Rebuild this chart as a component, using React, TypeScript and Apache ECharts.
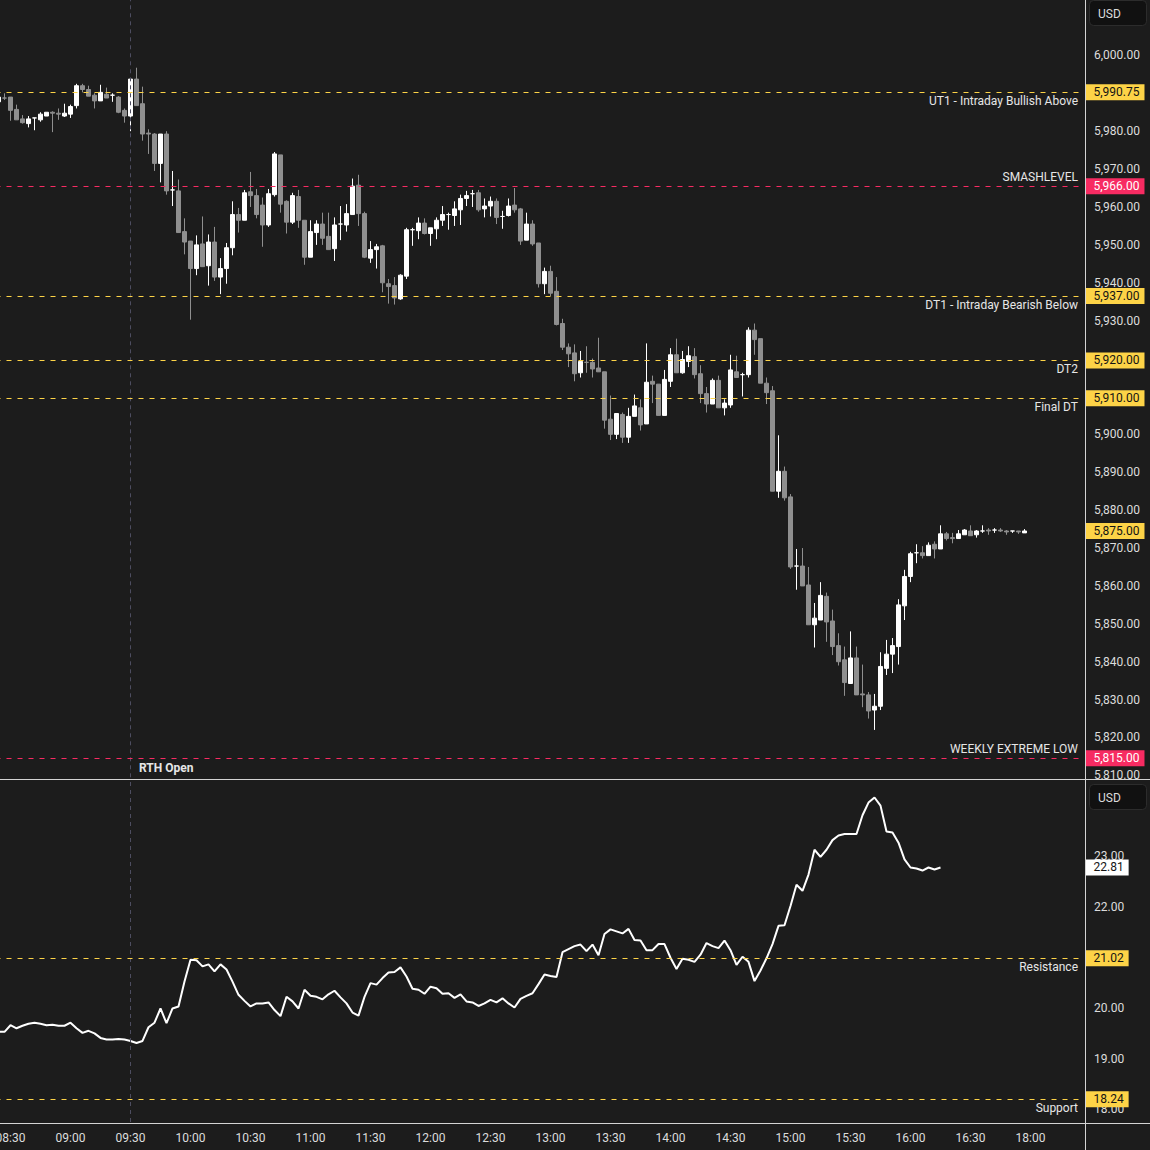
import React, { useEffect, useRef } from "react";
import * as echarts from "echarts";

// ---------- time slots (3-minute bars, 17:00-18:00 maintenance break skipped) ----------
const SESSION_STARTS: string[] = ["08:24", "18:00"];
const SESSION_ENDS: string[] = ["16:57", "18:24"];
const BAR_MINUTES = 3;
const toMin = (s: string) => Number(s.slice(0, 2)) * 60 + Number(s.slice(3, 5));
const toLabel = (m: number) =>
  String(Math.floor(m / 60)).padStart(2, "0") + ":" + String(m % 60).padStart(2, "0");
const timeSlots: string[] = [];
SESSION_STARTS.forEach((s, i) => {
  for (let m = toMin(s); m <= toMin(SESSION_ENDS[i]); m += BAR_MINUTES) timeSlots.push(toLabel(m));
});

// ---------- ES futures candles: [open, close, low, high] ----------
const esCandles: number[][] = [
  [5988.25, 5989.5, 5987.75, 5990.0],
  [5989.25, 5989.25, 5988.75, 5990.5],
  [5989.5, 5986.0, 5983.25, 5989.5],
  [5986.25, 5983.5, 5983.5, 5987.5],
  [5983.75, 5982.75, 5982.5, 5984.75],
  [5982.5, 5983.75, 5981.5, 5984.5],
  [5984.0, 5984.0, 5980.75, 5984.0],
  [5983.5, 5985.0, 5983.0, 5985.5],
  [5984.5, 5985.5, 5984.5, 5985.5],
  [5985.5, 5985.25, 5980.25, 5985.75],
  [5985.25, 5985.0, 5983.5, 5986.5],
  [5984.5, 5985.25, 5984.25, 5987.75],
  [5985.0, 5987.0, 5984.0, 5987.5],
  [5987.25, 5992.5, 5986.5, 5993.0],
  [5992.5, 5991.5, 5990.75, 5993.0],
  [5991.5, 5989.75, 5989.75, 5992.5],
  [5990.0, 5988.5, 5986.5, 5990.5],
  [5988.5, 5990.75, 5988.5, 5992.75],
  [5990.25, 5989.25, 5989.25, 5992.0],
  [5990.0, 5990.0, 5988.25, 5990.5],
  [5989.5, 5985.5, 5985.25, 5989.75],
  [5986.0, 5984.5, 5982.75, 5986.5],
  [5984.5, 5994.25, 5980.5, 5994.5],
  [5994.25, 5987.25, 5987.25, 5997.25],
  [5987.75, 5979.75, 5978.0, 5992.25],
  [5980.0, 5979.75, 5974.5, 5981.0],
  [5979.75, 5972.0, 5970.0, 5980.0],
  [5972.0, 5979.75, 5967.0, 5979.75],
  [5979.75, 5964.75, 5963.75, 5980.5],
  [5965.0, 5965.0, 5960.75, 5970.0],
  [5964.75, 5953.75, 5953.75, 5967.75],
  [5954.0, 5951.25, 5948.0, 5957.5],
  [5951.5, 5944.25, 5930.75, 5951.5],
  [5944.25, 5950.5, 5942.5, 5953.0],
  [5950.75, 5944.75, 5944.75, 5958.0],
  [5945.0, 5951.25, 5939.75, 5953.25],
  [5951.25, 5942.0, 5941.0, 5955.25],
  [5942.0, 5944.25, 5937.5, 5947.0],
  [5944.25, 5949.75, 5940.25, 5951.0],
  [5949.75, 5958.5, 5947.75, 5962.0],
  [5958.5, 5957.0, 5953.75, 5960.25],
  [5957.0, 5964.25, 5957.0, 5965.0],
  [5964.5, 5963.5, 5960.5, 5969.75],
  [5963.5, 5958.5, 5957.5, 5965.25],
  [5961.0, 5955.75, 5950.0, 5963.0],
  [5955.75, 5964.0, 5955.25, 5965.25],
  [5963.75, 5974.5, 5963.25, 5975.0],
  [5974.25, 5961.25, 5959.0, 5974.25],
  [5962.0, 5956.5, 5953.5, 5962.25],
  [5956.5, 5963.5, 5956.0, 5964.25],
  [5963.25, 5957.0, 5955.0, 5965.0],
  [5957.0, 5947.25, 5945.25, 5957.0],
  [5947.25, 5954.0, 5947.25, 5957.0],
  [5953.75, 5956.0, 5950.5, 5957.0],
  [5956.0, 5952.25, 5950.5, 5959.0],
  [5952.75, 5949.25, 5949.25, 5959.0],
  [5949.5, 5955.75, 5946.25, 5957.75],
  [5956.0, 5956.0, 5951.75, 5960.75],
  [5955.75, 5958.75, 5954.0, 5961.25],
  [5958.5, 5966.0, 5958.5, 5968.0],
  [5966.25, 5958.75, 5955.5, 5969.0],
  [5958.75, 5947.25, 5947.0, 5959.25],
  [5947.0, 5949.25, 5945.75, 5951.5],
  [5949.25, 5950.0, 5944.25, 5950.75],
  [5950.25, 5940.5, 5938.0, 5950.5],
  [5940.25, 5939.5, 5935.0, 5941.5],
  [5939.75, 5936.5, 5934.75, 5942.0],
  [5936.25, 5942.5, 5936.0, 5942.75],
  [5942.25, 5954.5, 5941.5, 5955.0],
  [5954.5, 5954.5, 5950.25, 5955.0],
  [5954.25, 5956.25, 5952.0, 5957.75],
  [5956.25, 5953.5, 5953.25, 5957.5],
  [5953.5, 5955.0, 5950.25, 5955.0],
  [5954.75, 5957.0, 5952.0, 5957.75],
  [5957.0, 5958.5, 5955.5, 5960.75],
  [5958.5, 5958.5, 5954.5, 5959.0],
  [5958.25, 5960.0, 5955.5, 5962.0],
  [5959.75, 5962.75, 5955.75, 5963.75],
  [5962.75, 5963.5, 5960.75, 5964.75],
  [5964.0, 5964.0, 5960.5, 5965.0],
  [5964.25, 5959.75, 5959.25, 5965.0],
  [5960.0, 5960.75, 5957.75, 5962.75],
  [5960.75, 5962.0, 5958.0, 5963.25],
  [5962.0, 5957.75, 5956.0, 5962.75],
  [5958.0, 5958.0, 5954.75, 5959.5],
  [5958.25, 5960.75, 5958.0, 5962.75],
  [5961.0, 5959.75, 5959.0, 5965.5],
  [5960.0, 5951.5, 5950.5, 5960.25],
  [5951.75, 5956.0, 5951.75, 5959.0],
  [5956.0, 5950.75, 5950.25, 5957.0],
  [5951.0, 5940.25, 5939.25, 5951.0],
  [5940.25, 5943.5, 5937.5, 5944.5],
  [5943.5, 5937.75, 5937.0, 5945.0],
  [5938.25, 5929.5, 5929.25, 5942.0],
  [5929.75, 5923.5, 5922.75, 5931.0],
  [5923.5, 5921.75, 5918.25, 5924.5],
  [5922.0, 5916.5, 5914.5, 5924.25],
  [5916.75, 5919.75, 5915.5, 5922.5],
  [5919.5, 5919.5, 5916.75, 5923.75],
  [5919.5, 5917.75, 5915.5, 5920.5],
  [5918.0, 5917.0, 5917.0, 5926.0],
  [5917.0, 5904.25, 5902.0, 5917.0],
  [5904.5, 5900.5, 5899.0, 5910.75],
  [5900.5, 5906.0, 5899.25, 5906.0],
  [5905.75, 5899.75, 5898.25, 5906.25],
  [5899.75, 5905.25, 5898.25, 5907.5],
  [5905.25, 5908.0, 5905.25, 5911.0],
  [5907.5, 5903.0, 5901.5, 5909.75],
  [5903.25, 5914.25, 5903.25, 5924.5],
  [5914.5, 5913.75, 5908.75, 5916.0],
  [5913.75, 5905.5, 5905.5, 5913.75],
  [5905.5, 5915.0, 5905.5, 5917.5],
  [5914.5, 5921.5, 5913.0, 5923.25],
  [5921.5, 5916.75, 5916.75, 5925.75],
  [5916.75, 5920.25, 5916.5, 5922.5],
  [5919.75, 5921.25, 5918.25, 5923.75],
  [5921.0, 5916.25, 5915.25, 5923.25],
  [5916.5, 5911.25, 5908.75, 5918.75],
  [5911.25, 5908.5, 5906.25, 5913.0],
  [5908.5, 5914.75, 5908.5, 5915.25],
  [5914.75, 5907.5, 5907.5, 5916.0],
  [5907.5, 5908.75, 5905.5, 5909.75],
  [5908.25, 5917.5, 5907.5, 5921.5],
  [5917.0, 5915.5, 5915.5, 5921.25],
  [5916.25, 5916.25, 5910.5, 5916.75],
  [5916.25, 5928.0, 5915.5, 5928.75],
  [5928.0, 5925.5, 5921.5, 5929.75],
  [5925.75, 5914.0, 5914.0, 5925.75],
  [5914.0, 5911.5, 5908.5, 5915.5],
  [5912.0, 5885.5, 5885.5, 5913.25],
  [5885.5, 5890.75, 5883.75, 5900.25],
  [5890.75, 5883.75, 5883.0, 5892.0],
  [5884.0, 5865.5, 5865.0, 5884.75],
  [5865.75, 5865.75, 5859.5, 5870.25],
  [5865.75, 5860.5, 5860.5, 5870.5],
  [5860.75, 5850.25, 5850.25, 5865.5],
  [5850.25, 5852.0, 5844.25, 5856.0],
  [5851.5, 5858.0, 5851.5, 5861.5],
  [5857.75, 5851.0, 5845.75, 5858.75],
  [5851.25, 5844.5, 5842.25, 5854.25],
  [5844.75, 5840.5, 5839.5, 5848.0],
  [5841.0, 5835.0, 5831.5, 5844.5],
  [5834.75, 5841.5, 5834.75, 5848.5],
  [5841.5, 5831.75, 5831.75, 5844.5],
  [5832.0, 5831.75, 5828.5, 5839.75],
  [5831.75, 5827.5, 5825.5, 5832.5],
  [5827.75, 5828.75, 5822.5, 5832.0],
  [5828.75, 5839.25, 5827.75, 5843.0],
  [5838.75, 5842.5, 5837.0, 5846.25],
  [5842.5, 5844.75, 5837.5, 5846.75],
  [5844.5, 5855.5, 5839.75, 5857.0],
  [5855.25, 5863.0, 5851.5, 5864.75],
  [5863.0, 5869.0, 5861.5, 5869.5],
  [5869.25, 5869.25, 5866.5, 5871.5],
  [5869.25, 5868.5, 5867.75, 5871.0],
  [5868.5, 5871.25, 5868.5, 5872.0],
  [5871.5, 5870.25, 5867.75, 5872.25],
  [5870.25, 5874.25, 5870.25, 5876.5],
  [5874.25, 5873.0, 5872.5, 5874.75],
  [5873.25, 5873.0, 5871.75, 5874.5],
  [5873.0, 5874.25, 5873.0, 5875.25],
  [5874.0, 5875.25, 5874.0, 5875.5],
  [5875.0, 5873.75, 5873.75, 5876.5],
  [5874.0, 5875.0, 5873.25, 5875.25],
  [5875.0, 5875.0, 5874.5, 5876.5],
  [5875.25, 5875.0, 5874.0, 5875.75],
  [5875.25, 5875.25, 5874.5, 5875.75],
  [5875.25, 5875.0, 5874.75, 5875.75],
  [5875.0, 5874.75, 5874.0, 5875.25],
  [5875.0, 5875.0, 5874.5, 5875.0],
  [5875.0, 5874.75, 5874.25, 5875.0],
  [5874.5, 5875.0, 5874.5, 5875.5],
];

// ---------- volatility index (lower pane) ----------
const vixValues: number[] = [
  19.57, 19.57, 19.7, 19.64, 19.69, 19.73, 19.75, 19.73, 19.7, 19.71, 19.69, 19.69, 19.75, 19.64, 19.55, 19.59,
  19.54, 19.45, 19.42, 19.42, 19.43, 19.42, 19.39, 19.35, 19.39, 19.66, 19.75, 20.03, 19.74, 20.03, 20.07,
  20.56, 20.99, 20.98, 20.86, 20.9, 20.76, 20.9, 20.8, 20.56, 20.3, 20.18, 20.07, 20.13, 20.13, 20.15, 20.0,
  19.88, 20.26, 20.17, 20.03, 20.4, 20.28, 20.26, 20.21, 20.31, 20.38, 20.25, 20.13, 19.95, 19.89, 20.26,
  20.53, 20.5, 20.63, 20.74, 20.75, 20.84, 20.66, 20.42, 20.4, 20.32, 20.46, 20.43, 20.32, 20.33, 20.24,
  20.31, 20.17, 20.15, 20.08, 20.13, 20.2, 20.15, 20.23, 20.13, 20.05, 20.22, 20.28, 20.33, 20.51, 20.7,
  20.67, 20.65, 21.14, 21.2, 21.26, 21.29, 21.16, 21.29, 21.08, 21.5, 21.59, 21.55, 21.51, 21.6, 21.38,
  21.37, 21.18, 21.18, 21.3, 21.3, 21.03, 20.81, 21.01, 20.99, 20.95, 21.09, 21.32, 21.26, 21.22, 21.37,
  21.18, 20.89, 21.05, 20.95, 20.57, 20.78, 21.02, 21.3, 21.66, 21.67, 22.05, 22.47, 22.35, 22.67, 23.16,
  23.02, 23.16, 23.35, 23.44, 23.47, 23.47, 23.47, 23.84, 24.09, 24.19, 24.03, 23.52, 23.5, 23.3, 22.97,
  22.81, 22.79, 22.75, 22.81, 22.77, 22.81,
];

// ---------- horizontal levels ----------
const priceLevels: number[] = [5990.75, 5966, 5937, 5920, 5910, 5815];
const priceLevelNames: string[] = [
  "UT1 - Intraday Bullish Above",
  "SMASHLEVEL",
  "DT1 - Intraday Bearish Below",
  "DT2",
  "Final DT",
  "WEEKLY EXTREME LOW",
];
const priceLevelColors: string[] = ["yellow", "pink", "yellow", "yellow", "yellow", "pink"];
const priceLevelSides: string[] = ["below", "above", "below", "below", "below", "above"];

const vixLevels: number[] = [21.02, 18.24];
const vixLevelNames: string[] = ["Resistance", "Support"];

const RTH_OPEN_TIME = "09:30";
const RTH_OPEN_TEXT = "RTH Open";
const RTH_LABEL_PRICE = 5812.4;

// axis ranges
const PRICE_MIN = 5810;
const PRICE_MAX = 6015.12;
const PRICE_TICK = 10;
const PRICE_LABEL_TOP = 6000;
const VIX_MIN = 17.792;
const VIX_MAX = 24.535;
const VIX_LABEL_MIN = 18;
const VIX_LABEL_MAX = 23;

// ---------- styles ----------
const BG = "#1c1c1c";
const TEXT = "#dcdcdc";
const YELLOW = "#fdd347";
const PINK = "#f72b62";
const UP = "#ffffff";
const DOWN = "#8f8f8f";
const FONT = "Roboto, 'Noto Sans', sans-serif";
const DASH = [5, 6];
const HIDDEN_LINE = { color: "rgba(0,0,0,0)", width: 0 };

const fmt = (v: number) =>
  v.toLocaleString("en-US", { minimumFractionDigits: 2, maximumFractionDigits: 2 });

function tagLabel(text: string, bg: string, fg: string) {
  return {
    show: true,
    position: "end",
    distance: 4,
    formatter: text,
    backgroundColor: bg,
    color: fg,
    opacity: 1,
    padding: [2, 5, 2, 8],
    fontSize: 12,
    lineHeight: 12,
    fontFamily: FONT,
  };
}

function nameLabel(text: string, side: string) {
  return {
    show: true,
    position: side === "above" ? "insideEndTop" : "insideEndBottom",
    distance: [3.5, 3],
    formatter: text,
    color: "#e6e6e6",
    opacity: 1,
    fontSize: 12,
    fontFamily: FONT,
  };
}

function buildOption() {
  const rthIndex = timeSlots.indexOf(RTH_OPEN_TIME);
  const lastClose = esCandles[esCandles.length - 1][1];
  const lastVix = vixValues[vixValues.length - 1];

  const vLine = {
    xAxis: rthIndex,
    lineStyle: { color: "#4d4d60", type: [4, 4], width: 1 },
    label: { show: false },
  };

  const topLines: any[] = [vLine];
  priceLevels.forEach((lv, i) => {
    const col = priceLevelColors[i] === "pink" ? PINK : YELLOW;
    topLines.push({
      yAxis: lv,
      lineStyle: { color: col, type: DASH, width: 1 },
      label: tagLabel(fmt(lv), col, col === PINK ? "#ffffff" : "#141414"),
    });
    topLines.push({
      yAxis: lv,
      lineStyle: HIDDEN_LINE,
      label: nameLabel(priceLevelNames[i], priceLevelSides[i]),
    });
  });
  topLines.push({
    yAxis: lastClose,
    lineStyle: HIDDEN_LINE,
    label: tagLabel(fmt(lastClose), YELLOW, "#141414"),
  });

  const botLines: any[] = [vLine];
  vixLevels.forEach((lv, i) => {
    botLines.push({
      yAxis: lv,
      lineStyle: { color: YELLOW, type: DASH, width: 1 },
      label: tagLabel(lv.toFixed(2), YELLOW, "#141414"),
    });
    botLines.push({
      yAxis: lv,
      lineStyle: HIDDEN_LINE,
      label: nameLabel(vixLevelNames[i], "below"),
    });
  });
  botLines.push({
    yAxis: lastVix,
    lineStyle: HIDDEN_LINE,
    label: tagLabel(lastVix.toFixed(2), "#ffffff", "#141414"),
  });

  // lineHeight 4 + bottom alignment lifts each tick label ~2px above its tick, as in the reference
  const yLabelBase = {
    color: TEXT,
    fontSize: 12,
    fontFamily: FONT,
    margin: 12.5,
    verticalAlign: "bottom",
    lineHeight: 4,
  };

  return {
    animation: false,
    backgroundColor: BG,
    textStyle: { fontFamily: FONT },
    grid: [
      { left: -4.5, right: 68.5, top: 0, height: 777.3, outerBoundsMode: "none", containLabel: false },
      { left: -4.5, right: 68.5, top: 780, height: 342, outerBoundsMode: "none", containLabel: false },
    ],
    xAxis: [
      {
        type: "category",
        gridIndex: 0,
        data: timeSlots,
        boundaryGap: true,
        axisLine: { show: false },
        axisTick: { show: false },
        axisLabel: { show: false },
        splitLine: { show: false },
      },
      {
        type: "category",
        gridIndex: 1,
        data: timeSlots,
        boundaryGap: true,
        axisLine: { show: false },
        axisTick: { show: false },
        splitLine: { show: false },
        axisLabel: {
          color: TEXT,
          fontSize: 12,
          fontFamily: FONT,
          margin: 10,
          interval: (_i: number, v: string) => v.endsWith(":00") || v.endsWith(":30"),
        },
      },
    ],
    yAxis: [
      {
        type: "value",
        gridIndex: 0,
        position: "right",
        min: PRICE_MIN,
        max: PRICE_MAX,
        interval: PRICE_TICK,
        scale: true,
        axisLine: { show: false },
        axisTick: { show: false },
        splitLine: { show: false },
        axisLabel: {
          ...yLabelBase,
          formatter: (v: number) =>
            v <= PRICE_LABEL_TOP && Math.abs(v / PRICE_TICK - Math.round(v / PRICE_TICK)) < 1e-6 ? fmt(v) : "",
        },
      },
      {
        type: "value",
        gridIndex: 1,
        position: "right",
        min: VIX_MIN,
        max: VIX_MAX,
        splitNumber: 6,
        minInterval: 1,
        maxInterval: 1,
        scale: true,
        axisLine: { show: false },
        axisTick: { show: false },
        splitLine: { show: false },
        axisLabel: {
          ...yLabelBase,
          formatter: (v: number) =>
            Math.abs(v - Math.round(v)) < 1e-6 && v >= VIX_LABEL_MIN && v <= VIX_LABEL_MAX ? v.toFixed(2) : "",
        },
      },
    ],
    series: [
      {
        type: "candlestick",
        xAxisIndex: 0,
        yAxisIndex: 0,
        data: esCandles,
        barWidth: 4,
        itemStyle: {
          color: UP,
          color0: DOWN,
          borderColor: UP,
          borderColor0: DOWN,
          borderWidth: 1,
        },
        markLine: {
          silent: true,
          symbol: ["none", "none"],
          animation: false,
          data: topLines,
        },
        markPoint: {
          silent: true,
          animation: false,
          data: [
            {
              coord: [rthIndex, RTH_LABEL_PRICE],
              symbol: "circle",
              symbolSize: 0,
              itemStyle: { color: "transparent" },
              label: {
                show: true,
                position: "right",
                distance: 8.5,
                formatter: RTH_OPEN_TEXT,
                color: "#e6e6e6",
                fontSize: 12,
                fontWeight: "bold",
                fontFamily: FONT,
              },
            },
          ],
        },
      },
      {
        type: "line",
        xAxisIndex: 1,
        yAxisIndex: 1,
        data: vixValues,
        showSymbol: false,
        symbol: "none",
        lineStyle: { color: "#ffffff", width: 2 },
        markLine: {
          silent: true,
          symbol: ["none", "none"],
          animation: false,
          data: botLines,
        },
      },
    ],
    graphic: [
      { type: "rect", z: 100, shape: { x: 1086, y: 779.5, width: 64, height: 12 }, style: { fill: BG } },
      { type: "line", z: 101, shape: { x1: 0, y1: 779.5, x2: 1150, y2: 779.5 }, style: { stroke: "#d4d4d4", lineWidth: 1 } },
      { type: "line", z: 101, shape: { x1: 0, y1: 1123.5, x2: 1150, y2: 1123.5 }, style: { stroke: "#d4d4d4", lineWidth: 1 } },
      { type: "line", z: 101, shape: { x1: 1085.5, y1: 0, x2: 1085.5, y2: 1150 }, style: { stroke: "#d4d4d4", lineWidth: 1 } },
      {
        type: "rect",
        z: 102,
        shape: { x: 1089.5, y: 0.5, width: 57, height: 25, r: 4 },
        style: { fill: "#111111", stroke: "#2c2c2c", lineWidth: 1 },
      },
      {
        type: "text",
        z: 103,
        x: 1098,
        y: 13.5,
        style: { text: "USD", fill: TEXT, fontSize: 12, fontFamily: FONT, verticalAlign: "middle" },
      },
      {
        type: "rect",
        z: 102,
        shape: { x: 1089.5, y: 784.5, width: 57, height: 25, r: 4 },
        style: { fill: "#111111", stroke: "#2c2c2c", lineWidth: 1 },
      },
      {
        type: "text",
        z: 103,
        x: 1098,
        y: 797.5,
        style: { text: "USD", fill: TEXT, fontSize: 12, fontFamily: FONT, verticalAlign: "middle" },
      },
    ],
  };
}

export default function App() {
  const ref = useRef<HTMLDivElement>(null);
  useEffect(() => {
    if (!ref.current) return;
    const chart = echarts.init(ref.current, undefined, { renderer: "svg" });
    chart.setOption(buildOption() as any);
    return () => chart.dispose();
  }, []);
  return (
    <div
      ref={ref}
      style={{ position: "fixed", left: 0, top: 0, width: 1150, height: 1150, background: BG }}
    />
  );
}
